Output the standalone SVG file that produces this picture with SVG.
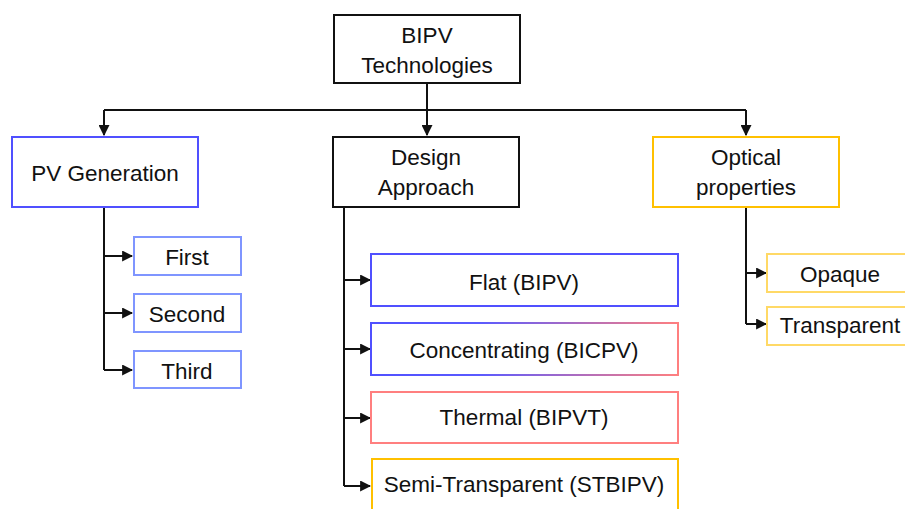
<svg xmlns="http://www.w3.org/2000/svg" width="905" height="509" viewBox="0 0 905 509">
<style>
text{font-family:"Liberation Sans",Arial,sans-serif;font-size:22.5px;fill:#111;text-anchor:middle}
rect{fill:#fff;stroke-width:2}
.k{stroke:#111}
.b{stroke:#5050ff}
.lb{stroke:#7f95ff}
.r{stroke:#ff7f7f}
.y{stroke:#ffc000}
.ly{stroke:#ffd966}
.c{fill:none;stroke:#111;stroke-width:2}
</style>
<defs>
<marker id="ah" viewBox="0 0 10 10" refX="9" refY="5" markerWidth="5.5" markerHeight="5.5" orient="auto" markerUnits="strokeWidth"><path d="M0,0L10,5L0,10z" fill="#111"/></marker>
<linearGradient id="gc" gradientUnits="userSpaceOnUse" x1="371" y1="0" x2="678" y2="0"><stop offset="0" stop-color="#5050ff"/><stop offset="0.35" stop-color="#5a5aff"/><stop offset="1" stop-color="#ff7f7f"/></linearGradient>
</defs>
<g id="connectors">
<path class="c" d="M427,83V135"/>
<path class="c" d="M104,110H746"/>
<path class="c" d="M104,110V135" marker-end="url(#ah)"/>
<path class="c" d="M746,110V135" marker-end="url(#ah)"/>
<path class="c" d="M427,110V135" marker-end="url(#ah)"/>
<path class="c" d="M104,207V370"/>
<path class="c" d="M104,256H132" marker-end="url(#ah)"/>
<path class="c" d="M104,313H132" marker-end="url(#ah)"/>
<path class="c" d="M104,370H132" marker-end="url(#ah)"/>
<path class="c" d="M344,207V486"/>
<path class="c" d="M344,280H370" marker-end="url(#ah)"/>
<path class="c" d="M344,349H370" marker-end="url(#ah)"/>
<path class="c" d="M344,418H370" marker-end="url(#ah)"/>
<path class="c" d="M344,486H370" marker-end="url(#ah)"/>
<path class="c" d="M746,207V324"/>
<path class="c" d="M746,273H766" marker-end="url(#ah)"/>
<path class="c" d="M746,324H766" marker-end="url(#ah)"/>
</g>
<g id="bipv"><rect class="k" x="334" y="15" width="186" height="68"/><text x="427" y="43">BIPV</text><text x="427" y="73">Technologies</text></g>
<g id="pvgen"><rect class="b" x="12" y="137" width="186" height="70"/><text x="105" y="181">PV Generation</text></g>
<g id="design"><rect class="k" x="333" y="137" width="186" height="70"/><text x="426" y="165">Design</text><text x="426" y="195">Approach</text></g>
<g id="optical"><rect class="y" x="653" y="137" width="186" height="70"/><text x="746" y="165">Optical</text><text x="746" y="195">properties</text></g>
<g id="first"><rect class="lb" x="134" y="237" width="107" height="38"/><text x="187" y="265">First</text></g>
<g id="second"><rect class="lb" x="134" y="294" width="107" height="38"/><text x="187" y="322">Second</text></g>
<g id="third"><rect class="lb" x="134" y="351" width="107" height="37"/><text x="187" y="379">Third</text></g>
<g id="flat"><rect class="b" x="371" y="254" width="307" height="52"/><text x="524" y="290">Flat (BIPV)</text></g>
<g id="conc"><rect x="371" y="323" width="307" height="52" stroke="url(#gc)"/><text x="524" y="358">Concentrating (BICPV)</text></g>
<g id="thermal"><rect class="r" x="371" y="392" width="307" height="51"/><text x="524" y="425">Thermal (BIPVT)</text></g>
<g id="semi"><rect class="y" x="372" y="459" width="306" height="60"/><text x="524" y="492">Semi-Transparent (STBIPV)</text></g>
<g id="opaque"><rect class="ly" x="767" y="254" width="146" height="38"/><text x="840" y="282">Opaque</text></g>
<g id="transparent"><rect class="ly" x="767" y="307" width="146" height="38"/><text x="840" y="333">Transparent</text></g>
</svg>
